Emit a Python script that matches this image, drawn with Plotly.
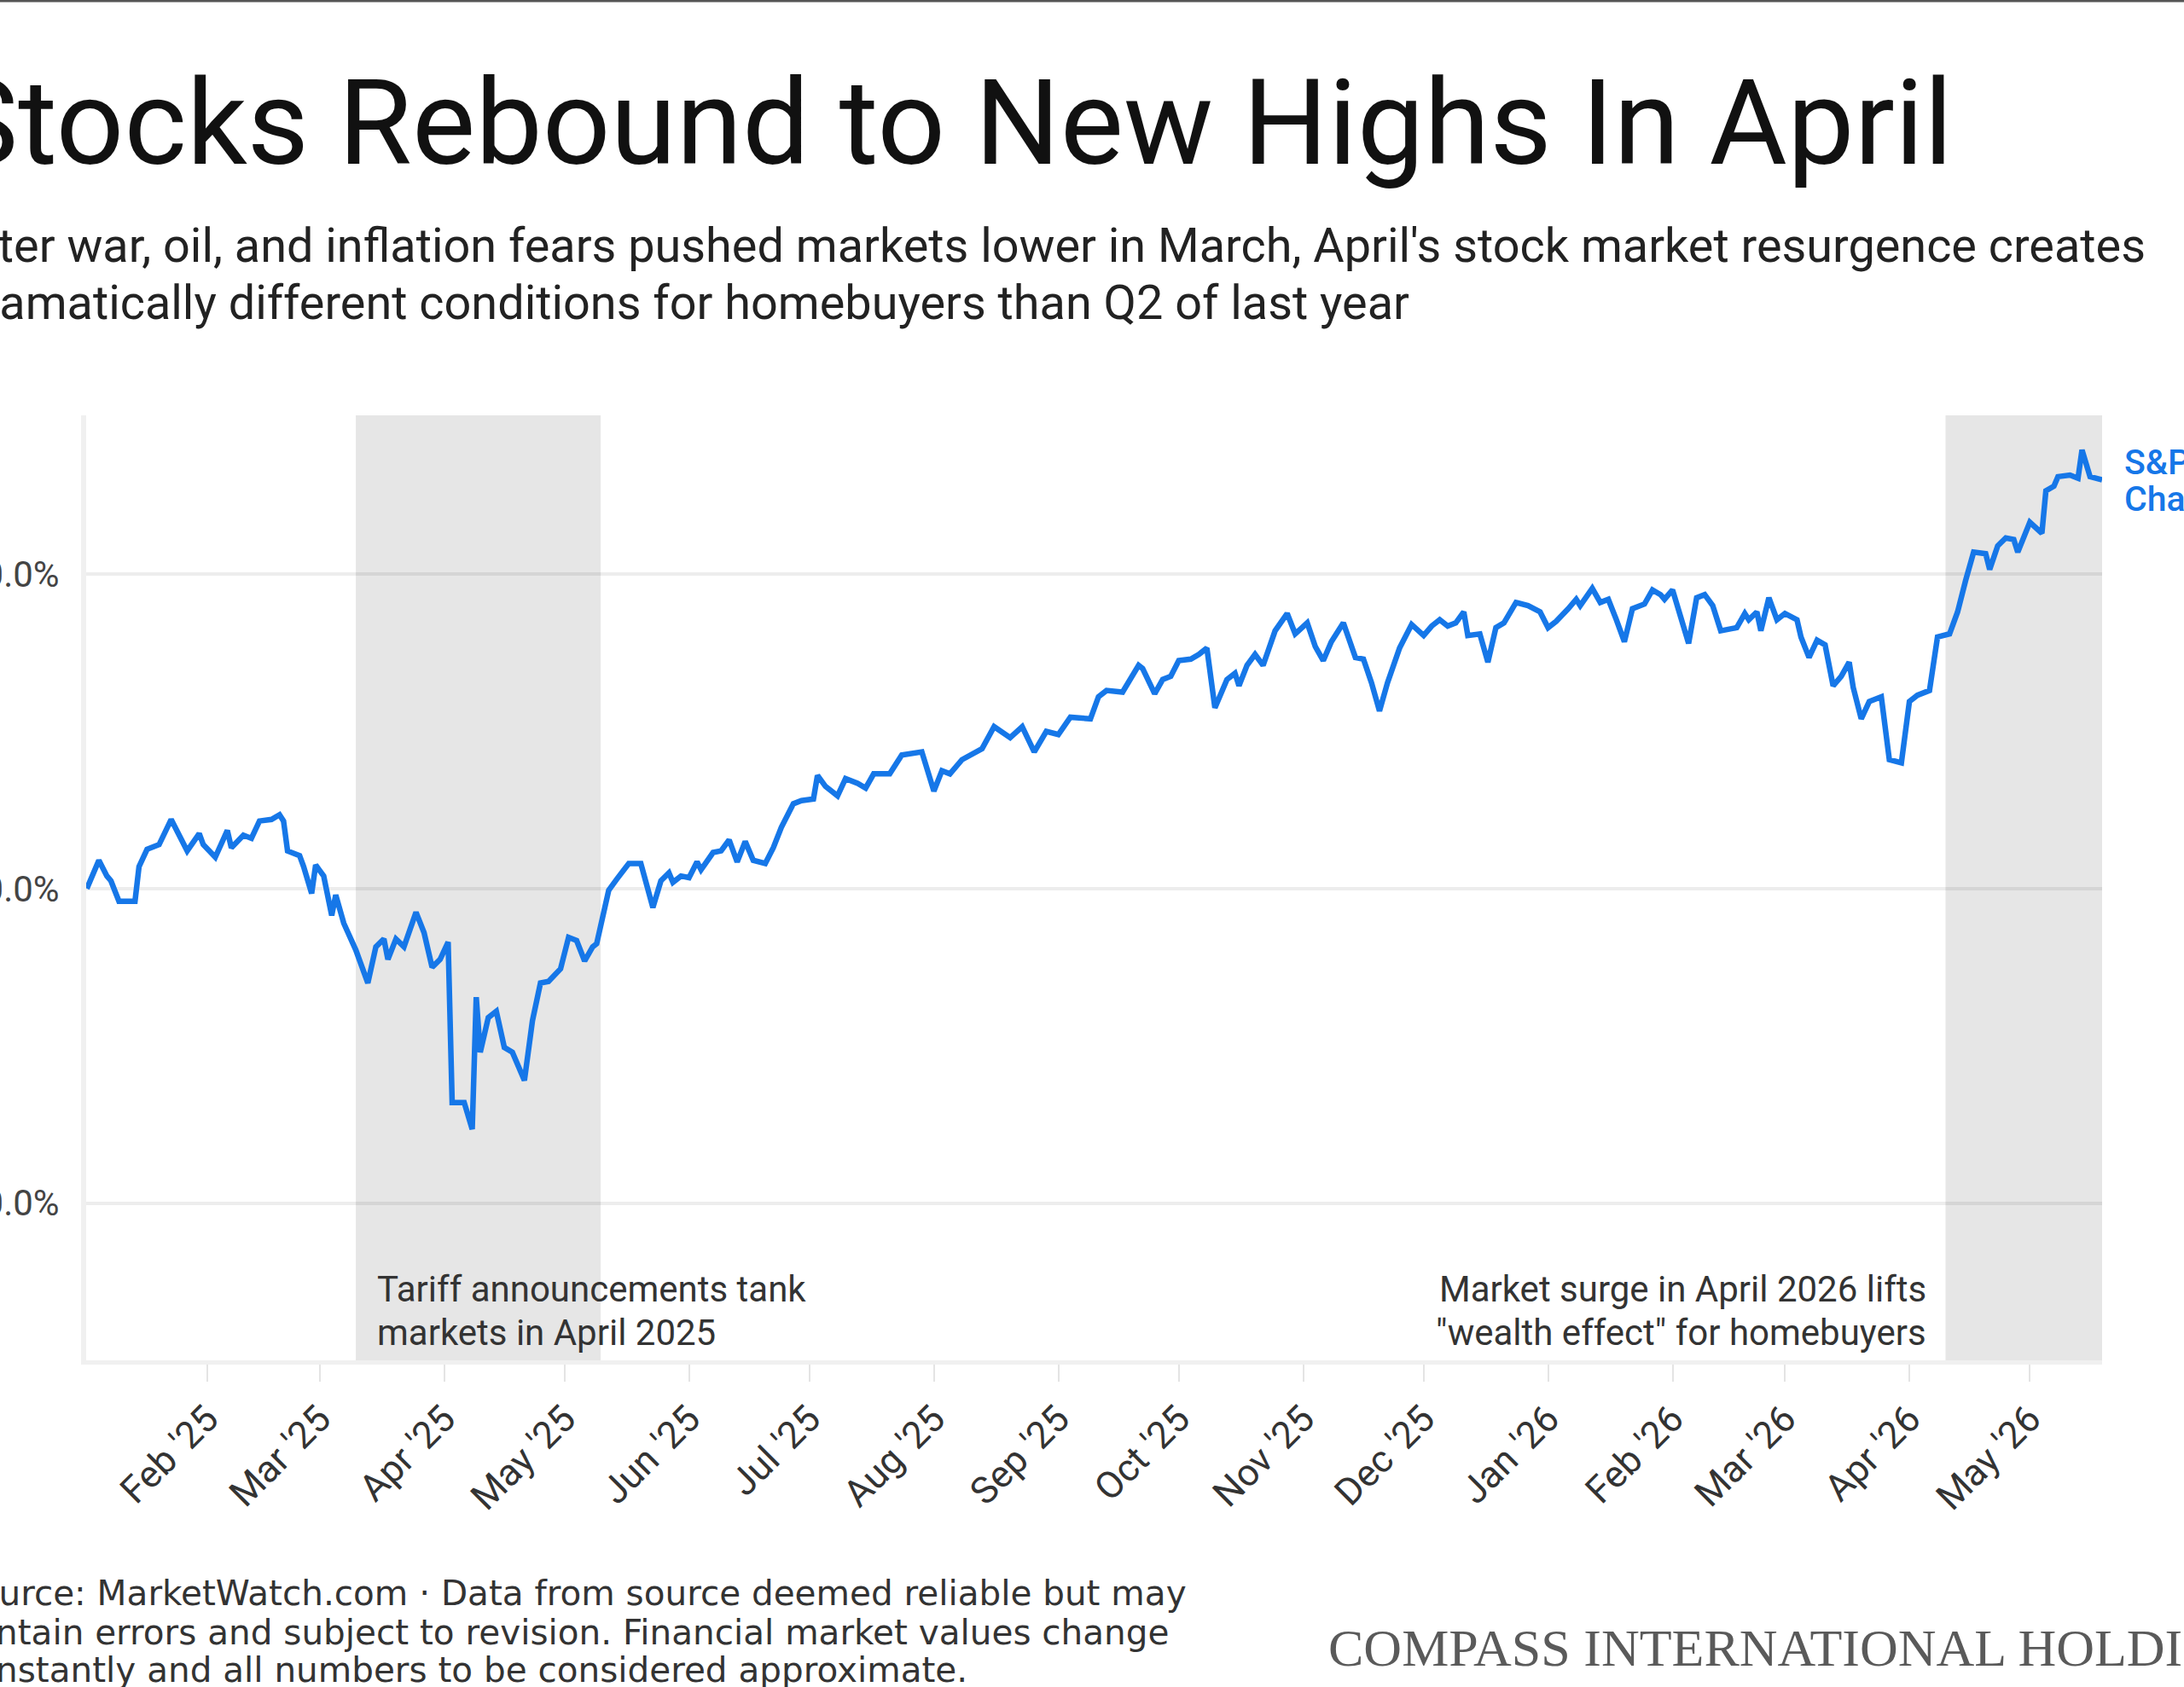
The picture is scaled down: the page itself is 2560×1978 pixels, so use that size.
import plotly.graph_objects as go
import pandas as pd

# ---------------- data ----------------
start_date = "2025-01-01"
day_offsets = [
    1, 4, 6, 7, 9, 13, 14, 16, 19, 22, 24, 26, 29, 30, 33, 36, 37, 40, 42, 44, 47, 49, 50, 51, 54, 55, 57, 58,
    60, 62, 63, 65, 68, 70, 71, 73, 75, 76, 78, 80, 83, 85, 87, 89, 91, 92, 95, 97, 98, 99, 101, 103, 105,
    107, 110, 112, 114, 116, 119, 121, 123, 125, 127, 128, 131, 133, 136, 139, 141, 142, 144, 146, 147, 149,
    151, 153, 154, 157, 159, 161, 163, 165, 167, 170, 172, 174, 177, 179, 182, 183, 185, 188, 190, 193, 195,
    197, 201, 204, 209, 210, 212, 214, 216, 219, 222, 224, 227, 231, 234, 237, 240, 243, 246, 251, 253, 255,
    259, 263, 264, 267, 269, 271, 273, 276, 278, 280, 282, 285, 287, 288, 290, 292, 294, 297, 300, 302, 305,
    307, 309, 311, 314, 317, 319, 321, 323, 325, 328, 331, 334, 336, 338, 340, 342, 344, 345, 348, 350, 352,
    354, 357, 360, 363, 365, 367, 370, 372, 373, 376, 378, 380, 382, 384, 386, 389, 391, 393, 394, 396, 398,
    400, 402, 404, 406, 408, 412, 414, 415, 417, 418, 420, 422, 424, 427, 428, 430, 432, 434, 436, 438, 440,
    441, 443, 445, 446, 448, 450, 453, 455, 457, 460, 462, 465, 467, 469, 471, 474, 475, 477, 479, 481, 482,
    485, 488, 489, 491, 492, 495, 497, 498, 500, 503,
]
pct_change = [
    0.0, 1.8, 0.8, 0.5, -0.8, -0.8, 1.4, 2.5, 2.8, 4.4, 3.4, 2.4, 3.5, 2.8, 2.0, 3.7, 2.6, 3.4, 3.2, 4.3, 4.4, 4.7, 4.3, 2.4, 2.1, 1.4, -0.3, 1.5,
    0.8, -1.7, -0.4, -2.2, -3.9, -5.3, -6.0, -3.7, -3.2, -4.5, -3.2, -3.7, -1.5, -2.8, -5.0, -4.5, -3.4, -13.6, -13.6, -15.3, -6.9, -10.4, -8.2, -7.8, -10.1,
    -10.4, -12.2, -8.4, -6.0, -5.9, -5.1, -3.1, -3.3, -4.6, -3.7, -3.5, -0.1, 0.6, 1.6, 1.6, -0.4, -1.2, 0.5, 1.0, 0.4, 0.8,
    0.7, 1.7, 1.2, 2.3, 2.4, 3.1, 1.7, 3.0, 1.8, 1.6, 2.6, 3.9, 5.4, 5.6, 5.7, 7.2, 6.5, 5.9, 7.0, 6.7, 6.4,
    7.3, 7.3, 8.5, 8.7, 7.9, 6.2, 7.5, 7.3, 8.2, 8.6, 8.9, 10.3, 9.6, 10.3, 8.7, 10.0, 9.8, 10.9, 10.8, 12.2, 12.6,
    12.5, 14.2, 14.0, 12.4, 13.3, 13.5, 14.5, 14.6, 14.9, 15.3, 11.5, 13.3, 13.7, 12.9, 14.2, 14.9, 14.2, 16.4, 17.5, 16.2, 16.9,
    15.4, 14.5, 15.7, 16.9, 14.7, 14.6, 13.1, 11.3, 13.1, 15.3, 16.8, 16.1, 16.7, 17.1, 16.7, 16.9, 17.6, 16.1, 16.2, 14.4, 16.6,
    16.9, 18.2, 18.0, 17.6, 16.6, 17.0, 17.8, 18.4, 18.0, 19.1, 18.2, 18.4, 17.1, 15.7, 17.8, 18.1, 19.0, 18.7, 18.4, 19.0, 17.3,
    15.6, 18.5, 18.7, 18.0, 16.4, 16.6, 17.5, 17.1, 17.6, 16.4, 18.5, 17.1, 17.5, 17.1, 16.0, 14.7, 15.8, 15.5, 12.9, 13.5, 14.4,
    12.8, 10.8, 11.9, 12.0, 12.2, 8.2, 8.0, 11.9, 12.3, 12.6, 16.0, 16.2, 17.6, 19.6, 21.4, 21.3, 20.3, 21.8, 22.3, 22.2, 21.4,
    23.3, 22.6, 25.3, 25.6, 26.2, 26.3, 26.1, 27.9, 26.2, 26.0,
]
x_range = ["2025-01-01 20:00", "2026-05-19"]
y_range = [-30, 30.1]
y_tick_values = [-20, 0, 20]
y_tick_labels = ["-20.0%", "0.0%", "20.0%"]
shade_periods = [("2025-03-10", "2025-05-10"), ("2026-04-10", "2026-05-19")]

title_text = "Stocks Rebound to New Highs In April"
subtitle_lines = [
    "After war, oil, and inflation fears pushed markets lower in March, April's stock market resurgence creates",
    "dramatically different conditions for homebuyers than Q2 of last year",
]
note_left = ["Tariff announcements tank", "markets in April 2025"]
note_right = ["Market surge in April 2026 lifts", "\"wealth effect\" for homebuyers"]
series_label = ["S&P 500", "Change"]
footer_lines = [
    "Source: MarketWatch.com \u00b7 Data from source deemed reliable but may",
    "contain errors and subject to revision. Financial market values change",
    "constantly and all numbers to be considered approximate.",
]
brand_text = "COMPASS INTERNATIONAL HOLDINGS"

# ---------------- layout geometry ----------------
W, H = 2560, 1978
L, R, T, B = 101, 96, 487, 383
PW = W - L - R
PH = H - T - B

BLUE = "#1677e8"
ROBOTO = "Roboto, 'Open Sans', sans-serif"


def px_x(px):
    return (px - L) / PW


def px_y(py):
    return (T + PH - py) / PH


dates = pd.Timestamp(start_date) + pd.to_timedelta(day_offsets, unit="D")

fig = go.Figure()
fig.add_trace(go.Scatter(
    x=dates, y=pct_change, mode="lines",
    line=dict(color=BLUE, width=6.5),
    hoverinfo="skip", showlegend=False,
))

for s, e in shade_periods:
    fig.add_shape(type="rect", xref="x", yref="paper", x0=s, x1=e, y0=0, y1=1,
                  fillcolor="#e6e6e6", line=dict(width=0), layer="below")

# top border line
fig.add_shape(type="line", xref="paper", yref="paper", x0=px_x(0), x1=px_x(W),
              y0=px_y(1), y1=px_y(1), line=dict(color="#555555", width=3))

annotations = []


def add_text(text, x_px, base_px, size, family=ROBOTO, color="#222222", xanchor="left", weight=None):
    f = dict(family=family, size=size, color=color)
    if weight:
        f["weight"] = weight
    annotations.append(dict(
        text=text, xref="paper", yref="paper", x=px_x(x_px), y=px_y(base_px - 0.34 * size),
        xanchor=xanchor, yanchor="middle", showarrow=False, font=f, align=xanchor,
    ))


add_text(title_text, -64, 192, 140, color="#111111")
add_text(subtitle_lines[0], -60, 307, 55.8, color="#222222")
add_text(subtitle_lines[1], -52, 374, 55.8, color="#222222")

add_text(note_left[0], 440, 1526, 42, color="#333333")
add_text(note_left[1], 440, 1577, 42, color="#333333")
add_text(note_right[0], 2260, 1526, 42, color="#333333", xanchor="right")
add_text(note_right[1], 2260, 1577, 42, color="#333333", xanchor="right")

add_text(series_label[0], 2488, 556, 41, color=BLUE, weight=500)
add_text(series_label[1], 2488, 599, 41, color=BLUE, weight=500)

FOOT = "'DejaVu Sans', sans-serif"
add_text(footer_lines[0], -54, 1882, 40.5, family=FOOT, color="#333333")
add_text(footer_lines[1], -54, 1928, 40.5, family=FOOT, color="#333333")
add_text(footer_lines[2], -54, 1972, 40.5, family=FOOT, color="#333333")

add_text(brand_text, 1555, 1953, 62, family="'Liberation Serif', serif", color="#5a5a5a")

fig.update_layout(
    width=W, height=H, autosize=False,
    margin=dict(l=L, r=R, t=T, b=B, pad=0),
    paper_bgcolor="white", plot_bgcolor="white",
    showlegend=False,
    annotations=annotations,
    font=dict(family=ROBOTO),
)

fig.update_xaxes(
    type="date", range=x_range, automargin=False,
    showgrid=False, zeroline=False,
    showline=True, linecolor="#f0f0f0", linewidth=5,
    ticks="outside", ticklen=20, tickwidth=2, tickcolor="#e4e4e4",
    tick0="2025-02-01", dtick="M1", tickformat="%b '%y", tickangle=-45,
    tickfont=dict(family=ROBOTO, size=44, color="#333333"),
)
fig.update_yaxes(
    range=y_range, automargin=False,
    tickvals=y_tick_values, ticktext=y_tick_labels,
    showgrid=True, gridcolor="rgba(0,0,0,0.07)", gridwidth=4,
    zeroline=False,
    showline=True, linecolor="#f0f0f0", linewidth=6,
    ticks="", ticklabelstandoff=17,
    tickfont=dict(family=ROBOTO, size=42, color="#444444"),
)

fig.write_html("out.html")
